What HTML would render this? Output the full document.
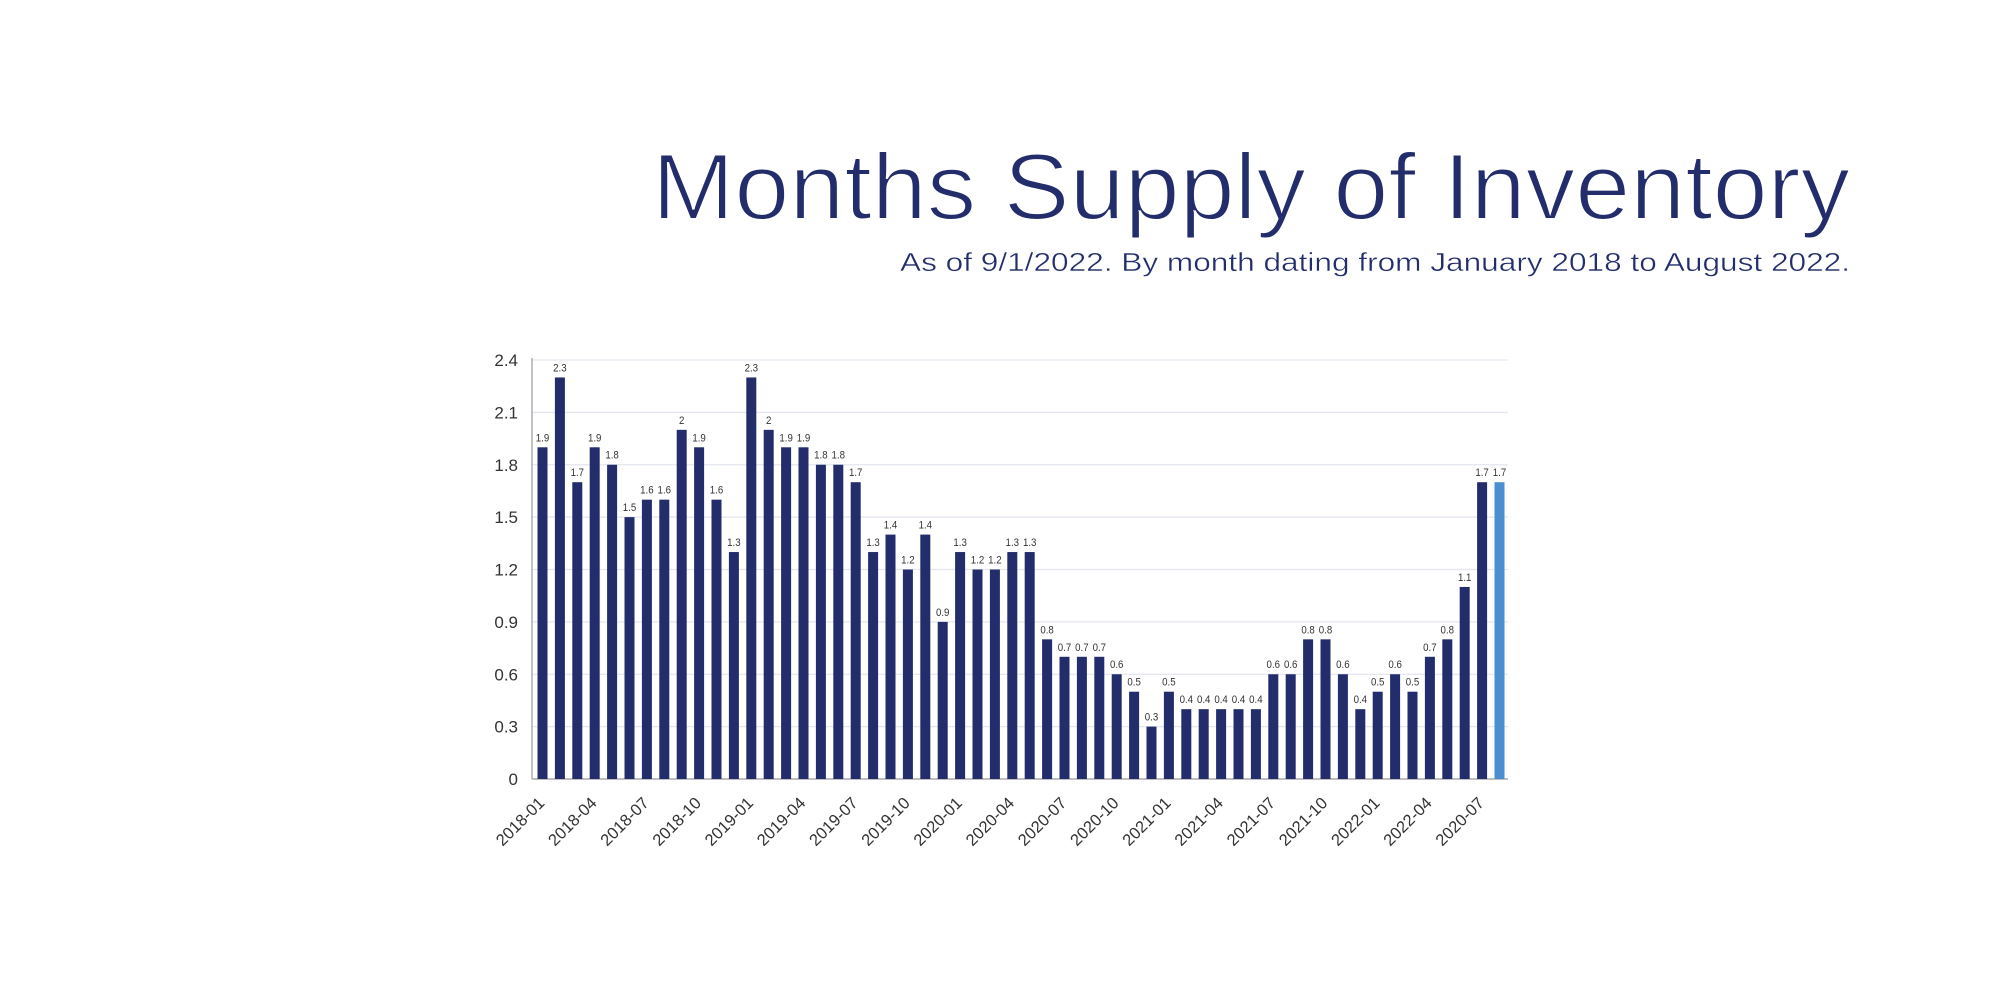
<!DOCTYPE html>
<html><head><meta charset="utf-8"><style>
html,body{margin:0;padding:0;background:#fff;width:2000px;height:1000px;overflow:hidden}
svg{display:block}
</style></head><body>
<svg id="c" width="2000" height="1000" xmlns="http://www.w3.org/2000/svg" font-family="Liberation Sans, sans-serif">
<text x="1850" y="219" text-anchor="end" font-size="94" fill="#232d6b" stroke="#fff" stroke-width="2" textLength="1198" lengthAdjust="spacingAndGlyphs">Months Supply of Inventory</text>
<text x="1850" y="271" text-anchor="end" font-size="26" fill="#232d6b" stroke="#fff" stroke-width="0.4" textLength="950" lengthAdjust="spacingAndGlyphs">As of 9/1/2022. By month dating from January 2018 to August 2022.</text>
<g id="g"></g>
</svg>
<script>
var d=[1.9,2.3,1.7,1.9,1.8,1.5,1.6,1.6,2,1.9,1.6,1.3,2.3,2,1.9,1.9,1.8,1.8,1.7,1.3,1.4,1.2,1.4,0.9,1.3,1.2,1.2,1.3,1.3,0.8,0.7,0.7,0.7,0.6,0.5,0.3,0.5,0.4,0.4,0.4,0.4,0.4,0.6,0.6,0.8,0.8,0.6,0.4,0.5,0.6,0.5,0.7,0.8,1.1,1.7,1.7];
var x0=532,x1=1508,yb=779,yt=360,k=(yb-yt)/2.4,s='';
for(var i=0;i<=8;i++){var v=i*0.3,y=yb-v*k;
 if(i>0)s+='<line x1="'+x0+'" x2="'+x1+'" y1="'+y+'" y2="'+y+'" stroke="#e3e6ef" stroke-width="1.2"/>';
 s+='<text x="518" y="'+(y+6)+'" text-anchor="end" font-size="17" fill="#333">'+(i==0?'0':v.toFixed(1))+'</text>';}
s+='<line x1="'+x0+'" x2="'+x0+'" y1="'+(yt-2)+'" y2="'+yb+'" stroke="#999" stroke-width="1.2"/>';
s+='<line x1="'+x0+'" x2="'+x1+'" y1="'+yb+'" y2="'+yb+'" stroke="#999" stroke-width="1.2"/>';
var labs={0:'2018-01',3:'2018-04',6:'2018-07',9:'2018-10',12:'2019-01',15:'2019-04',18:'2019-07',21:'2019-10',24:'2020-01',27:'2020-04',30:'2020-07',33:'2020-10',36:'2021-01',39:'2021-04',42:'2021-07',45:'2021-10',48:'2022-01',51:'2022-04',54:'2020-07'};
for(var i=0;i<56;i++){var bx=537.5+i*17.4,h=d[i]*k,c=bx+5;
 s+='<rect x="'+bx+'" y="'+(yb-h)+'" width="10" height="'+h+'" fill="'+(i==55?'#4a8fd0':'#232d6b')+'"/>';
 s+='<text x="'+c+'" y="'+(yb-h-6)+'" text-anchor="middle" font-size="11" fill="#333" transform="translate('+c+',0) scale(0.88,1) translate('+(-c)+',0)">'+d[i]+'</text>';
 if(labs[i])s+='<text transform="translate('+(c+3)+',804) rotate(-45)" text-anchor="end" font-size="16.5" fill="#333">'+labs[i]+'</text>';}
document.getElementById('g').innerHTML=s;
</script>
</body></html>
